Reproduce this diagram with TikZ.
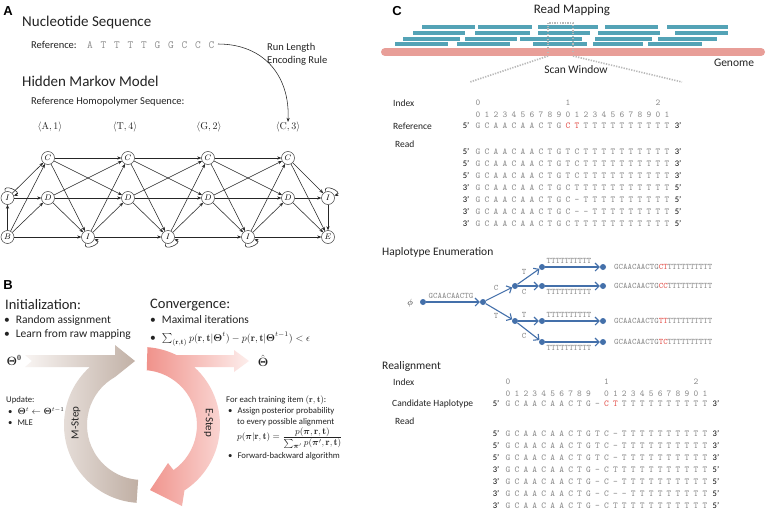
\documentclass[tikz,border=0pt]{standalone}
\usepackage{amsmath}
\usepackage{bm}
\usepackage{fontspec}
\newfontfamily\calfont{Carlito}
\newfontfamily\arialfont{Liberation Sans}
\usetikzlibrary{arrows.meta,calc}
\definecolor{txt}{RGB}{35,35,35}
\definecolor{seqgray}{RGB}{140,140,140}
\definecolor{redch}{RGB}{228,85,80}
\definecolor{readc}{RGB}{84,163,182}
\definecolor{genc}{RGB}{232,158,152}
\definecolor{treec}{RGB}{68,112,170}
\definecolor{winc}{RGB}{185,185,185}
\definecolor{brL}{RGB}{248,244,242}
\definecolor{brD}{RGB}{192,175,164}
\definecolor{pkD}{RGB}{240,146,139}
\definecolor{pkL}{RGB}{253,238,236}
\newcommand\rd{\color{redch}}
\newcommand\alnrow[8]{%
  \node[prm] (#1-l) at ({#2-12},{-#5}) {#6};
  \foreach \xc [count=\k from 0] in {#8} {\node[sq] (#1-\k) at ({#2+#3*\k},{-#5}) {\xc};}
  \node[prm] (#1-r) at ({#2+#3*(#4-1)+11},{-#5}) {#7};
}
\begin{document}
\begin{tikzpicture}[x=1pt,y=1pt,
  every node/.style={inner sep=0pt, text=txt},
  panellab/.style={font=\arialfont\bfseries\fontsize{13}{13}\selectfont, text=black},
  hbig/.style={font=\calfont\fontsize{15}{15}\selectfont, anchor=west},
  hbigB/.style={font=\calfont\fontsize{14.5}{14.5}\selectfont, anchor=west},
  tmed/.style={font=\calfont\fontsize{10.5}{13}\selectfont, anchor=west},
  tbul/.style={font=\calfont\fontsize{11.5}{13}\selectfont, anchor=west},
  tsm/.style={font=\calfont\fontsize{8.7}{10}\selectfont, anchor=west},
  tC/.style={font=\calfont\fontsize{9.5}{10}\selectfont, anchor=west},
  hC/.style={font=\calfont\fontsize{11.5}{12}\selectfont, anchor=west},
  sqA/.style={font=\ttfamily\fontsize{11}{11}\selectfont, text=seqgray},
  sq/.style={font=\ttfamily\fontsize{9}{9}\selectfont, text=seqgray, text height=5pt, text depth=0pt},
  prm/.style={font=\calfont\fontsize{8.5}{8.5}\selectfont, text=black, text height=5pt, text depth=0pt},
  ttl/.style={font=\ttfamily\fontsize{8.4}{8.4}\selectfont, text=seqgray},
  st/.style={circle, draw=black!75, line width=0.5pt, minimum size=13pt, inner sep=0pt, font=\fontsize{8}{8}\selectfont, text=black},
  hm/.style={draw=black!85, line width=0.55pt, -{Stealth[length=4pt,width=3.2pt]}},
  tdot/.style={circle, fill=treec, minimum size=6pt, inner sep=0pt},
  tarr/.style={draw=treec, line width=1.1pt, -{Straight Barb[length=4pt,width=8pt]}},
  win/.style={draw=winc, line width=1.6pt, dash pattern=on 1.3pt off 1.3pt}
]
\useasboundingbox (0,0) rectangle (766,-514);
\fill[white] (0,0) rectangle (766,-514);

% ================= Panel A =================
\node[panellab] (labA) at (8,-11) {A};
\node[hbig] (nucseq) at (22,-23) {Nucleotide Sequence};
\node[tmed] (refl) at (31,-45) {Reference:};
\foreach \xc [count=\k from 0] in {A,T,T,T,T,G,G,C,C,C}
  \node[sqA] (a\k) at ({90+13.5*\k},-45) {\xc};
\coordinate (seqend) at (218,-44);
\node[tmed, align=left] (rle) at (267,-54) {Run Length\\Encoding Rule};
\node[hbig] (hmmt) at (22,-81) {Hidden Markov Model};
\node[tmed] (rhs) at (31,-102) {Reference Homopolymer Sequence:};
\node[font=\fontsize{10}{10}\selectfont] (hA) at (50,-127) {$\langle\mathrm{A},1\rangle$};
\node[font=\fontsize{10}{10}\selectfont] (hT) at (125,-127) {$\langle\mathrm{T},4\rangle$};
\node[font=\fontsize{10}{10}\selectfont] (hG) at (209,-127) {$\langle\mathrm{G},2\rangle$};
\node[font=\fontsize{10}{10}\selectfont] (hC) at (288,-127) {$\langle\mathrm{C},3\rangle$};
\draw[hm] (seqend) .. controls (264,-44) and (290,-76) .. (hC.north);

% HMM
\foreach \n/\x in {1/48,2/128,3/208,4/288}{
  \node[st] (C\n) at (\x,-158) {$C$};
  \node[st] (D\n) at (\x,-198) {$D$};
}
\foreach \n/\x in {1/88,2/168,3/248}
  \node[st] (I\n) at (\x,-237) {$I$};
\node[st] (Il) at (7.5,-198) {$I$};
\node[st] (B) at (7.5,-237) {$B$};
\node[st] (Ir) at (328,-198) {$I$};
\node[st] (E) at (328,-237) {$E$};

\draw[hm] (B) -- (Il);
\draw[hm] (Il.110) .. controls +(110:10) and +(20:10) .. (Il.20);
\draw[hm] (B) -- (C1); \draw[hm] (B) -- (D1); \draw[hm] (B) -- (I1);
\draw[hm] (Il) -- (C1); \draw[hm] (Il) -- (D1);
\foreach \a/\b in {1/2,2/3,3/4}{
  \draw[hm] (C\a) -- (C\b); \draw[hm] (C\a) -- (D\b);
  \draw[hm] (D\a) -- (C\b); \draw[hm] (D\a) -- (D\b);
  \draw[hm] (C\a) -- (I\a); \draw[hm] (D\a) -- (I\a);
  \draw[hm] (I\a) -- (C\b); \draw[hm] (I\a) -- (D\b);
  \draw[hm] (I\a.250) .. controls +(250:10) and +(-20:10) .. (I\a.-20);
}
\draw[hm] (I1) -- (I2); \draw[hm] (I2) -- (I3); \draw[hm] (I3) -- (E);
\draw[hm] (C4) -- (Ir); \draw[hm] (C4) -- (E);
\draw[hm] (D4) -- (Ir); \draw[hm] (D4) -- (E);
\draw[hm] (Ir) -- (E);
\draw[hm] (Ir.110) .. controls +(110:10) and +(20:10) .. (Ir.20);

% ================= Panel B =================
\node[panellab] (labB) at (8,-285) {B};
\node[hbigB] (init) at (5,-305) {Initialization:};
\node[tbul] (ib1) at (4,-320) {•\hspace{6pt}Random assignment};
\node[tbul] (ib2) at (4,-335) {•\hspace{6pt}Learn from raw mapping};
\node[hbigB] (conv) at (150,-305) {Convergence:};
\node[tbul] (cb1) at (150,-319.5) {•\hspace{6pt}Maximal iterations};
\node[tbul] (cb2) at (150,-339) {•\hspace{6pt}{\fontsize{10}{11}\selectfont$\sum_{(\mathbf{r},\mathbf{t})} p(\mathbf{r},\mathbf{t}|\bm{\Theta}^t)-p(\mathbf{r},\mathbf{t}|\bm{\Theta}^{t-1})<\epsilon$}};

% M-step: straight arrow + ring (one shape)
\shade[left color=brL, right color=brD]
  (25,-355) -- (115,-355) -- (115,-345) -- (135,-361) -- (115,-377)
  arc[start angle=119.4, end angle=266, radius=55]
  -- (136.56,-502.81)
  arc[start angle=266, end angle=131.96, radius=78]
  -- (25,-367) -- (32,-361) -- cycle;
% E-step: ring + straight arrow (one shape)
\shade[left color=pkD, right color=pkL]
  (147.44,-347.19) arc[start angle=86, end angle=63.8, radius=78]
  -- (234,-355) -- (234,-350) -- (249,-361) -- (234,-372) -- (234,-367)
  -- (194.15,-367) arc[start angle=48.04, end angle=-57, radius=78]
  -- (182,-506) -- (150,-490) -- (168,-463) -- (173.5,-470.1)
  arc[start angle=-55, end angle=85, radius=55] -- cycle;

\node[font=\fontsize{12}{12}\selectfont] (th0) at (14,-360) {$\bm{\Theta}^{\mathbf{0}}$};
\node[font=\fontsize{12}{12}\selectfont] (thh) at (263,-361) {$\hat{\bm{\Theta}}$};
\node[font=\calfont\fontsize{11}{11}\selectfont, rotate=90] (mstep) at (76,-423) {M-Step};
\node[font=\calfont\fontsize{11}{11}\selectfont, rotate=-90] (estep) at (208.5,-423) {E-Step};

\node[tsm] (upd) at (6,-400) {Update:};
\node[tsm] (upd1) at (8,-411) {•\hspace{5pt}$\bm{\Theta}^t\leftarrow\bm{\Theta}^{t-1}$};
\node[tsm] (upd2) at (8,-423) {•\hspace{5pt}MLE};

\node[tsm] (fe) at (226,-400) {For each training item $(\mathbf{r},\mathbf{t})$:};
\node[tsm] (fe1) at (228,-411) {•\hspace{5pt}Assign posterior probability};
\node[tsm] (fe2) at (237,-422) {to every possible alignment};
\node[tsm] (fe3) at (237,-438) {\fontsize{9.5}{11}\selectfont$p(\bm{\pi}|\mathbf{r},\mathbf{t})=\dfrac{p(\bm{\pi},\mathbf{r},\mathbf{t})}{\sum_{\bm{\pi}'}p(\bm{\pi}',\mathbf{r},\mathbf{t})}$};
\node[tsm] (fe4) at (228,-456) {•\hspace{5pt}Forward-backward algorithm};

% ================= Panel C =================
\node[panellab] (labC) at (397,-11) {C};
\node[font=\calfont\fontsize{13}{13}\selectfont] (rmap) at (572,-10) {Read Mapping};
\foreach \a/\b in {422/475,478/532,538/598,605/658,667/728} \fill[readc] (\a,-25) rectangle (\b,-29);
\foreach \a/\b in {413/465,475/530,538/590,598/660,675/728} \fill[readc] (\a,-31) rectangle (\b,-35);
\foreach \a/\b in {403/460,465/517,520/582,595/652,658/717} \fill[readc] (\a,-36.5) rectangle (\b,-40.5);
\foreach \a/\b in {395/448,457/510,533/587,593/643,648/702} \fill[readc] (\a,-42) rectangle (\b,-46);
\draw[genc, line width=8pt, line cap=round] (385,-52) -- (761,-52);
\draw[win] (548,-53) -- (548,-23) -- (573,-23) -- (573,-53);
\draw[win] (548,-56) -- (470,-82);
\draw[win] (573,-56) -- (682,-82);
\node[font=\calfont\fontsize{11.5}{11.5}\selectfont] (gen) at (734,-63) {Genome};
\node[font=\calfont\fontsize{11.5}{11.5}\selectfont] (scan) at (576,-70) {Scan Window};

\node[tC] (ix1) at (393,-103) {Index};
\node[sq] (t10) at (478,-103) {0};
\node[sq] (t11) at (568,-103) {1};
\node[sq] (t12) at (658,-103) {2};
\foreach \xc [count=\k from 0] in {0,1,2,3,4,5,6,7,8,9,0,1,2,3,4,5,6,7,8,9,0,1}
  \node[sq] (d1-\k) at ({478+9*\k},-115) {\xc};
\node[tC] (refC) at (393,-126) {Reference};
\alnrow{ref}{478}{9}{22}{126}{5’}{3’}{G,C,A,A,C,A,A,C,T,G,\rd C,\rd T,T,T,T,T,T,T,T,T,T,T}
\node[tC] (rd1) at (395,-144) {Read};
\alnrow{ra}{478}{9}{22}{152}{5’}{3’}{G,C,A,A,C,A,A,C,T,G,T,C,T,T,T,T,T,T,T,T,T,T}
\alnrow{rb}{478}{9}{22}{164}{5’}{3’}{G,C,A,A,C,A,A,C,T,G,T,C,T,T,T,T,T,T,T,T,T,T}
\alnrow{rc}{478}{9}{22}{176}{5’}{3’}{G,C,A,A,C,A,A,C,T,G,T,C,T,T,T,T,T,T,T,T,T,T}
\alnrow{rdd}{478}{9}{22}{188}{3’}{5’}{G,C,A,A,C,A,A,C,T,G,C,T,T,T,T,T,T,T,T,T,T,T}
\alnrow{re}{478}{9}{22}{200}{3’}{5’}{G,C,A,A,C,A,A,C,T,G,C,-,T,T,T,T,T,T,T,T,T,T}
\alnrow{rf}{478}{9}{22}{212}{3’}{5’}{G,C,A,A,C,A,A,C,T,G,C,-,-,T,T,T,T,T,T,T,T,T}
\alnrow{rg}{478}{9}{22}{224}{3’}{5’}{G,C,A,A,C,A,A,C,T,G,C,T,T,T,T,T,T,T,T,T,T,T}

% Haplotype enumeration
\node[hC] (hapt) at (382,-252) {Haplotype Enumeration};
\node[font=\fontsize{9}{9}\selectfont] (phi) at (410,-303) {$\phi$};
\node[tdot] (t0) at (423,-302) {};
\node[tdot] (t1) at (483,-302) {};
\node[tdot] (tu) at (515,-286) {};
\node[tdot] (tl) at (515,-321) {};
\node[tdot] (tuu) at (542,-267) {};
\node[tdot] (tuc) at (542,-286) {};
\node[tdot] (tlt) at (542,-321) {};
\node[tdot] (tlc) at (542,-342) {};
\node[tdot] (e1) at (603,-267) {};
\node[tdot] (e2) at (603,-286) {};
\node[tdot] (e3) at (603,-321) {};
\node[tdot] (e4) at (603,-342) {};
\draw[tarr] (t0) -- (t1);
\draw[tarr] (t1) -- (tu); \draw[tarr] (t1) -- (tl);
\draw[tarr] (tu) -- (tuu); \draw[tarr] (tu) -- (tuc);
\draw[tarr] (tl) -- (tlt); \draw[tarr] (tl) -- (tlc);
\draw[tarr] (tuu) -- (e1); \draw[tarr] (tuc) -- (e2);
\draw[tarr] (tlt) -- (e3); \draw[tarr] (tlc) -- (e4);
\node[ttl] (lr) at (451,-296) {GCAACAACTG};
\node[ttl] (lc1) at (496,-288) {C};
\node[ttl] (lt1) at (496,-316) {T};
\node[ttl] (lt2) at (524,-272) {T};
\node[ttl] (lc2) at (524,-292) {C};
\node[ttl] (lt3) at (524,-315) {T};
\node[ttl] (lc3) at (524,-336) {C};
\node[ttl] (p1) at (569,-261) {TTTTTTTTTT};
\node[ttl] (p2) at (569,-292) {TTTTTTTTTT};
\node[ttl] (p3) at (569,-315) {TTTTTTTTTT};
\node[ttl] (p4) at (569,-348) {TTTTTTTTTT};
\node[ttl, anchor=west] (s1) at (614,-267) {GCAACAACTG{\rd CT}TTTTTTTTTT};
\node[ttl, anchor=west] (s2) at (614,-286) {GCAACAACTG{\rd CC}TTTTTTTTTT};
\node[ttl, anchor=west] (s3) at (614,-321) {GCAACAACTG{\rd TT}TTTTTTTTTT};
\node[ttl, anchor=west] (s4) at (614,-342) {GCAACAACTG{\rd TC}TTTTTTTTTT};

% Realignment
\node[hC] (realt) at (382,-366) {Realignment};
\node[tC] (ix2) at (393,-382) {Index};
\node[sq] (t20) at (508,-382) {0};
\node[sq] (t21) at (606.5,-382) {1};
\node[sq] (t22) at (696,-382) {2};
\foreach \xc [count=\k from 0] in {0,1,2,3,4,5,6,7,8,9,{},0,1,2,3,4,5,6,7,8,9,0,1}
  \node[sq] (d2-\k) at ({508+8.95*\k},-394) {\xc};
\node[tC] (cand) at (392,-404) {Candidate Haplotype};
\alnrow{cnd}{508}{8.95}{23}{404}{5’}{3’}{G,C,A,A,C,A,A,C,T,G,-,\rd C,\rd T,T,T,T,T,T,T,T,T,T,T}
\node[tC] (rd2) at (395,-421) {Read};
\alnrow{qa}{508}{8.95}{23}{434}{5’}{3’}{G,C,A,A,C,A,A,C,T,G,T,C,-,T,T,T,T,T,T,T,T,T,T}
\alnrow{qb}{508}{8.95}{23}{446}{5’}{3’}{G,C,A,A,C,A,A,C,T,G,T,C,-,T,T,T,T,T,T,T,T,T,T}
\alnrow{qc}{508}{8.95}{23}{458}{5’}{3’}{G,C,A,A,C,A,A,C,T,G,T,C,-,T,T,T,T,T,T,T,T,T,T}
\alnrow{qd}{508}{8.95}{23}{470}{3’}{5’}{G,C,A,A,C,A,A,C,T,G,-,C,T,T,T,T,T,T,T,T,T,T,T}
\alnrow{qe}{508}{8.95}{23}{482}{3’}{5’}{G,C,A,A,C,A,A,C,T,G,-,C,-,T,T,T,T,T,T,T,T,T,T}
\alnrow{qf}{508}{8.95}{23}{494}{3’}{5’}{G,C,A,A,C,A,A,C,T,G,-,C,-,-,T,T,T,T,T,T,T,T,T}
\alnrow{qg}{508}{8.95}{23}{506}{3’}{5’}{G,C,A,A,C,A,A,C,T,G,-,C,T,T,T,T,T,T,T,T,T,T,T}
\end{tikzpicture}
\end{document}
